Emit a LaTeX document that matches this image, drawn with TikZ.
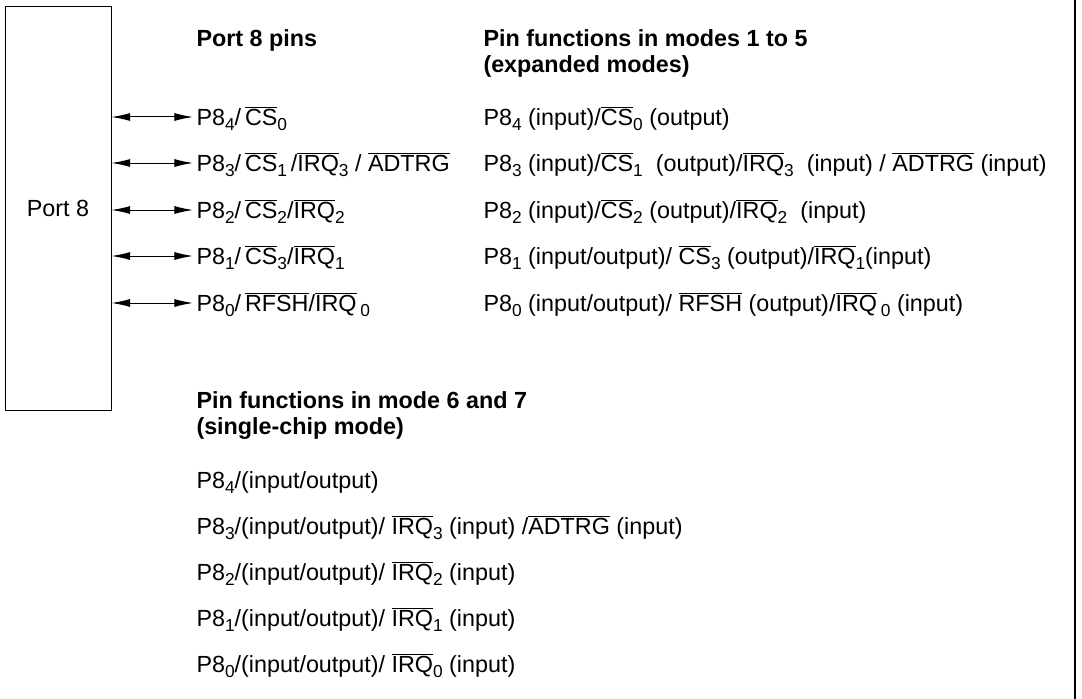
\documentclass[tikz,border=0pt]{standalone}
\usepackage{fontspec}
\setmainfont{Liberation Sans}
\usepackage{tikz}
\usetikzlibrary{arrows.meta}
\newcommand{\lowact}[1]{$\overline{\mbox{#1}}$}
\newcommand{\idx}[1]{\raisebox{-4pt}{\fontsize{13}{13}\selectfont #1}}

\begin{document}
\begin{tikzpicture}[x=0.75pt, y=-0.75pt, font=\fontsize{17.5}{21}\selectfont,
  >={Latex[length=14pt,width=6pt]}, line width=0.75pt,
  pintext/.style={anchor=west, inner xsep=0pt, inner ysep=0pt, text height=15pt, text depth=2.5pt},
  headtext/.style={pintext, font=\fontsize{17.5}{21}\selectfont\bfseries}]
\useasboundingbox (0,0) rectangle (1082,699);
\node[draw, minimum width=79.5pt, minimum height=302.25pt, inner sep=0pt] (port) at (58,208.5) {Port 8};
\draw[line width=1.2pt] (1075,0) -- (1075,699);
% headings
\node[headtext] (hpins) at (196,38) {Port 8 pins};
\node[headtext] (hexpA) at (483,38) {Pin functions in modes 1 to 5};
\node[headtext] (hexpB) at (483,64) {(expanded modes)};
\node[headtext] (hsngA) at (196,400) {Pin functions in mode 6 and 7};
\node[headtext] (hsngB) at (196,426) {(single-chip mode)};
% pins with both mode groups
\foreach \i/\y/\l/\r in {
  4/117/{P8\idx{4}/\,\lowact{CS}\idx{0}}/{P8\idx{4} (input)/\lowact{CS}\idx{0} (output)},
  3/163/{P8\idx{3}/\,\lowact{CS}\idx{1}\,/\lowact{IRQ}\idx{3} / \lowact{ADTRG}}/{P8\idx{3} (input)/\lowact{CS}\idx{1}\ \ (output)/\lowact{IRQ}\idx{3}\ \ (input) / \lowact{ADTRG} (input)},
  2/210/{P8\idx{2}/\,\lowact{CS}\idx{2}/\lowact{IRQ}\idx{2}}/{P8\idx{2} (input)/\lowact{CS}\idx{2} (output)/\lowact{IRQ}\idx{2}\ \ (input)},
  1/256/{P8\idx{1}/\,\lowact{CS}\idx{3}/\lowact{IRQ}\idx{1}}/{P8\idx{1}\ (input/output)/ \lowact{CS}\idx{3} (output)/\lowact{IRQ}\idx{1}(input)},
  0/303/{P8\idx{0}/\,\lowact{RFSH}/\lowact{IRQ}\,\idx{0}}/{P8\idx{0} (input/output)/ \lowact{RFSH} (output)/\lowact{IRQ}\,\idx{0} (input)}}{
  \node[pintext, inner xsep=2.25pt] (pin\i) at (193,\y) {\l};
  \node[pintext] (exp\i) at (483,\y) {\r};
  \draw[<->] (port.east |- pin\i.west) -- (pin\i.west);
}
% single-chip functions
\foreach \i/\y/\b in {
  4/480/{P8\idx{4}/(input/output)},
  3/526/{P8\idx{3}/(input/output)/ \lowact{IRQ}\idx{3} (input) /\lowact{ADTRG} (input)},
  2/572/{P8\idx{2}/(input/output)/ \lowact{IRQ}\idx{2} (input)},
  1/618/{P8\idx{1}/(input/output)/ \lowact{IRQ}\idx{1} (input)},
  0/664/{P8\idx{0}/(input/output)/ \lowact{IRQ}\idx{0} (input)}}{
  \node[pintext] (sng\i) at (196,\y) {\b};
}
\end{tikzpicture}
\end{document}
